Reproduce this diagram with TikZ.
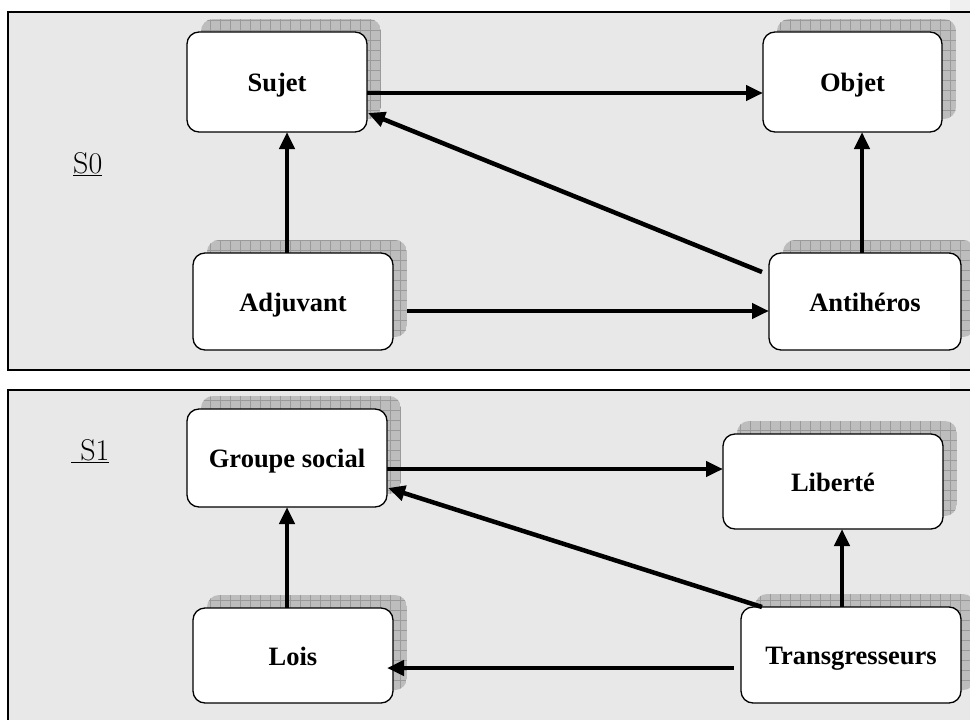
\documentclass[tikz,border=0pt]{standalone}
\usepackage{fontspec}
\newfontfamily\tnr{Liberation Serif}
\usetikzlibrary{arrows.meta}
\definecolor{panelgray}{HTML}{E8E8E8}
\definecolor{stripgray}{HTML}{F0F0F0}
\definecolor{shadowgray}{HTML}{BDBDBD}
\definecolor{gridgray}{HTML}{9A9A9A}
\tikzset{
  panel/.style={draw=black, line width=2pt, fill=panelgray},
  boxstyle/.style={draw=black, line width=1.3pt, fill=white, rounded corners=12pt,
    rectangle, inner sep=0pt, outer sep=0pt, text height=19pt, text depth=0pt,
    font=\tnr\bfseries\fontsize{26.5}{30}\selectfont},
  conn/.style={line width=4.5pt, -{Triangle[length=17pt,width=15pt]}},
  slabel/.style={inner sep=0pt, font=\fontsize{30}{34}\selectfont, anchor=base west}
}
\newcommand\mkbox[6]{%
  \begin{scope}
    \clip[rounded corners=12pt] (#2-#4/2+14,#3-#5/2-13) rectangle (#2+#4/2+14,#3+#5/2-13);
    \fill[shadowgray] (#2-#4/2+14,#3-#5/2-13) rectangle (#2+#4/2+14,#3+#5/2-13);
    \draw[gridgray, line width=0.7pt, step=10pt] (#2-#4/2+14,#3-#5/2-13) grid (#2+#4/2+14,#3+#5/2-13);
  \end{scope}
  \node[boxstyle, minimum width=#4, minimum height=#5] (#1) at (#2,#3) {#6};
}
\begin{document}
\begin{tikzpicture}[x=1pt, y=-1pt]
\useasboundingbox (0,0) rectangle (970,720);
\fill[stripgray] (950,0) rectangle (970,720);
% panels
\draw[panel] (8,12) rectangle (985,370);
\draw[panel] (8,390) rectangle (985,735);
% labels
\node[slabel] (s0) at (73,173) {\underline{S0}};
\node[slabel] (s1) at (71,460) {\underline{\ S1}};
% panel 1 boxes
\mkbox{sujet}{277}{82}{180}{100}{Sujet}
\mkbox{objet}{852.5}{82}{179}{100}{Objet}
\mkbox{adj}{293}{301.5}{200}{97}{Adjuvant}
\mkbox{anti}{865}{301.5}{192}{97}{Antihéros}
% panel 2 boxes
\mkbox{groupe}{287}{458}{200}{98}{Groupe social}
\mkbox{lib}{833}{481.5}{220}{95}{Liberté}
\mkbox{lois}{293}{655.5}{200}{95}{Lois}
\mkbox{trans}{851}{655}{220}{96}{Transgresseurs}
% panel 1 connectors
\draw[conn] (sujet.east |- 0,93) -- (objet.west |- 0,93);
\draw[conn] (adj.north -| 287,0) -- (sujet.south -| 287,0);
\draw[conn] ([shift={(-7,19)}]anti.north west) -- ([shift={(1,-19)}]sujet.south east);
\draw[conn] (anti.north -| 862,0) -- (objet.south -| 862,0);
\draw[conn] ([xshift=14pt]adj.east |- 0,311) -- (anti.west |- 0,311);
% panel 2 connectors
\draw[conn] (groupe.east |- 0,469) -- (lib.west |- 0,469);
\draw[conn] (lois.north -| 287,0) -- (groupe.south -| 287,0);
\draw[conn] ([shift={(21,0)}]trans.north west) -- ([shift={(1,-19)}]groupe.south east);
\draw[conn] (trans.north -| 842,0) -- (lib.south -| 842,0);
\draw[conn] ([xshift=-7pt]trans.west |- 0,668) -- ([xshift=-6pt]lois.east |- 0,668);
\end{tikzpicture}
\end{document}
